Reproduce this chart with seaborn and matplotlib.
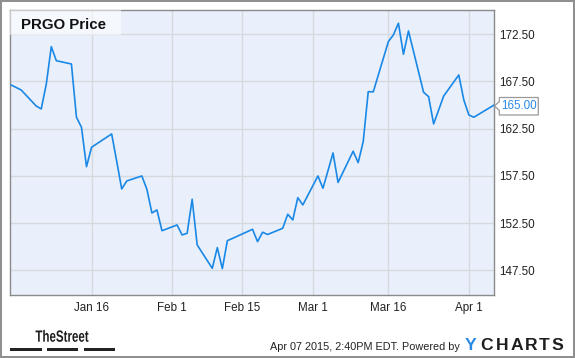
import matplotlib
matplotlib.use("Agg")
import matplotlib.pyplot as plt
import matplotlib.transforms as mtransforms
from matplotlib.patches import Rectangle, Polygon, PathPatch
from matplotlib.textpath import TextPath
from matplotlib.font_manager import FontProperties
import seaborn as sns
import pandas as pd

# ---------------- data ----------------
dates = [
    "2014-12-31",
    "2015-01-02", "2015-01-05", "2015-01-06", "2015-01-07", "2015-01-08", "2015-01-09",
    "2015-01-12", "2015-01-13", "2015-01-14", "2015-01-15", "2015-01-16",
    "2015-01-20", "2015-01-21", "2015-01-22", "2015-01-23",
    "2015-01-26", "2015-01-27", "2015-01-28", "2015-01-29", "2015-01-30",
    "2015-02-02", "2015-02-03", "2015-02-04", "2015-02-05", "2015-02-06",
    "2015-02-09", "2015-02-10", "2015-02-11", "2015-02-12", "2015-02-13",
    "2015-02-17", "2015-02-18", "2015-02-19", "2015-02-20",
    "2015-02-23", "2015-02-24", "2015-02-25", "2015-02-26", "2015-02-27",
    "2015-03-02", "2015-03-03", "2015-03-04", "2015-03-05", "2015-03-06",
    "2015-03-09", "2015-03-10", "2015-03-11", "2015-03-12", "2015-03-13",
    "2015-03-16", "2015-03-17", "2015-03-18", "2015-03-19", "2015-03-20",
    "2015-03-23", "2015-03-24", "2015-03-25", "2015-03-26", "2015-03-27",
    "2015-03-30", "2015-03-31", "2015-04-01", "2015-04-02", "2015-04-06",
]
prices = [
    167.13,
    166.60, 164.90, 164.59, 167.20, 171.19, 169.70,
    169.35, 163.71, 162.65, 158.47, 160.53,
    161.94, 159.05, 156.11, 156.96,
    157.49, 156.08, 153.57, 153.89, 151.69,
    152.30, 151.24, 151.42, 155.02, 150.18,
    147.71, 149.90, 147.67, 150.64, 150.87,
    151.84, 150.53, 151.53, 151.29,
    151.95, 153.43, 152.83, 155.19, 154.42,
    157.49, 156.19, 158.04, 159.93, 156.80,
    160.11, 158.90, 161.12, 166.42, 166.40,
    171.72, 172.43, 173.67, 170.38, 172.85,
    166.36, 165.89, 163.00, 164.48, 165.96,
    168.19, 165.54, 163.95, 163.71, 165.00,
]
x_tick_dates = ["2015-01-16", "2015-02-01", "2015-02-15", "2015-03-01", "2015-03-16", "2015-04-01"]
x_tick_labels = ["Jan 16", "Feb 1", "Feb 15", "Mar 1", "Mar 16", "Apr 1"]
y_ticks = [147.5, 152.5, 157.5, 162.5, 167.5, 172.5]
title_text = "PRGO Price"
last_price_label = "165.00"
footer_text = "Apr 07 2015, 2:40PM EDT. Powered by"
brand_letters = ["Y", "C", "H", "A", "R", "T", "S"]
logo_text = "TheStreet"

# ---------------- style ----------------
W, H = 575, 358
DPI = 100
sns.set_theme(style="white")
plt.rcParams["font.family"] = ["Liberation Sans", "DejaVu Sans"]

LINE = "#1a88e6"
BG = "#e9f0fb"
GRID = "#d6d9de"
SPINE = "#8a8a8a"
TXT = "#222222"

fig = plt.figure(figsize=(W / DPI, H / DPI), dpi=DPI)
fig.patch.set_facecolor("white")

def fx(px):
    return px / W

def fy(py):
    return 1 - py / H

ax_l, ax_r, ax_t, ax_b = 10, 494, 10, 295
ax = fig.add_axes([fx(ax_l), fy(ax_b), fx(ax_r - ax_l), (ax_b - ax_t) / H])
ax.set_facecolor(BG)

df = pd.DataFrame({"date": pd.to_datetime(dates), "price": prices})
sns.lineplot(data=df, x="date", y="price", ax=ax, color=LINE, linewidth=1.2, zorder=5)

ax.set_xlim(pd.Timestamp("2014-12-31") - pd.Timedelta(hours=5), pd.Timestamp("2015-04-06"))
ax.set_ylim(144.88, 175.07)

ax.set_xticks(pd.to_datetime(x_tick_dates))
ax.set_xticklabels(x_tick_labels)
ax.set_yticks(y_ticks)
ax.set_yticklabels([f"{v:.2f}" for v in y_ticks])
ax.yaxis.tick_right()
ax.tick_params(axis="both", length=0, labelsize=8.4, colors=TXT)
ax.tick_params(axis="y", pad=4)
ax.tick_params(axis="x", pad=5)
ax.set_xlabel("")
ax.set_ylabel("")
ax.grid(True, color=GRID, linewidth=1.0, zorder=0)
ax.set_axisbelow(True)
for s in ax.spines.values():
    s.set_color(SPINE)
    s.set_linewidth(1.0)
    s.set_visible(True)

# title box (semi-transparent, inside plot)
ax.add_patch(Rectangle((0, 1 - 25 / (ax_b - ax_t)), 111 / (ax_r - ax_l), 25 / (ax_b - ax_t),
                       transform=ax.transAxes, facecolor="white", alpha=0.55,
                       edgecolor="none", zorder=3))
fig.text(fx(21), fy(29.3), title_text, fontsize=10.8, fontweight="bold",
         color="#111111", ha="left", va="baseline")

# last price flag
box_l, box_r, box_t, box_b = 499.3, 538.3, 97.5, 115
ident = mtransforms.IdentityTransform()
flag = Polygon([(box_l, H - box_t), (box_r, H - box_t), (box_r, H - box_b), (box_l, H - box_b),
                (box_l, H - 110.5), (494.5, H - 106), (box_l, H - 101.5)],
               closed=True, transform=ident, facecolor="white", edgecolor="#9a9a9a",
               linewidth=0.9, zorder=10)
fig.add_artist(flag)
fig.text(fx((box_l + box_r) / 2 + 0.5), fy((box_t + box_b) / 2), last_price_label,
         fontsize=8.4, color="#2b8ae6", ha="center", va="center", zorder=11)

# footer text
fig.text(fx(270), fy(349.5), footer_text, fontsize=7.8, color=TXT, ha="left", va="baseline")
letter_offsets = [0, 15, 30.5, 45.5, 60, 74, 86]
for letter, off in zip(brand_letters, letter_offsets):
    fig.text(fx(465 + off), fy(350.3), letter, fontsize=12.6, fontweight="bold",
             color="#2b8ae6" if letter == "Y" else "#1e1e1e", ha="left", va="baseline")

# TheStreet logo (condensed bold wordmark)
tp = TextPath((0, 0), logo_text, size=16, prop=FontProperties(family="Liberation Sans", weight="bold"))
ext = tp.get_extents()
sx = 53 / ext.width
sy = 11.7 / 11.5
tr = mtransforms.Affine2D().translate(-ext.x0, 0).scale(sx, sy).translate(35.5, H - 341.7)
fig.add_artist(PathPatch(tp, transform=tr + ident, facecolor="#1e1e1e", edgecolor="none"))
for x0, x1 in [(10, 42), (47, 78), (84, 115)]:
    fig.add_artist(Rectangle((x0, H - 351), x1 - x0, 3, transform=ident,
                             facecolor="#222222", edgecolor="none"))

# outer frame
fig.add_artist(Rectangle((0, 0), 1, 1, transform=fig.transFigure, fill=False,
                         edgecolor="#8f8f8f", linewidth=2.9, zorder=20))

fig.savefig("out.png", dpi=DPI, facecolor="white")
